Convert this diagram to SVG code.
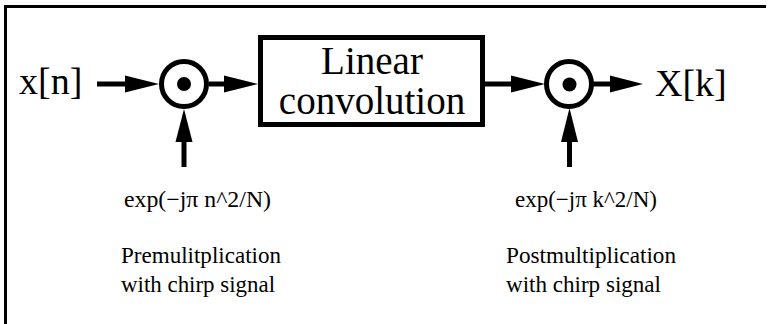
<svg xmlns="http://www.w3.org/2000/svg" width="773" height="324" viewBox="0 0 773 324">
<style>
.ln{stroke:#000;stroke-width:5;fill:none}
.hd{fill:#000;stroke:none}
.ring{stroke:#000;stroke-width:5;fill:#fff}
.dot{fill:#000}
.t{font-family:"Liberation Serif","Times New Roman",serif;fill:#000}
.big{font-size:38px}
.box{font-size:39px}
.sm{font-size:23px}
</style>
<rect width="773" height="324" fill="#fff"/>
<polyline points="5.5,324 5.5,6.5 766,6.5" stroke="#000" stroke-width="3" fill="none"/>
<g id="connectors">
<line class="ln" x1="97" y1="84" x2="128" y2="84"/>
<polygon class="hd" points="125,75.5 159,84 125,92.5"/>
<line class="ln" x1="209" y1="84" x2="228" y2="84"/>
<polygon class="hd" points="224,75.5 258,84 224,92.5"/>
<line class="ln" x1="485" y1="84" x2="514" y2="84"/>
<polygon class="hd" points="511,75.5 545,84 511,92.5"/>
<line class="ln" x1="593" y1="84" x2="613" y2="84"/>
<polygon class="hd" points="610,75.5 643,84 610,92.5"/>
<line class="ln" x1="184" y1="167" x2="184" y2="138"/>
<polygon class="hd" points="175.5,142 184,109 192.5,142"/>
<line class="ln" x1="569.5" y1="167" x2="569.5" y2="138"/>
<polygon class="hd" points="561,142 569.5,108 578,142"/>
</g>
<g id="input">
<text class="t big" x="19" y="94">x[n]</text>
</g>
<g id="mult1">
<circle class="ring" cx="184" cy="84" r="22.5"/>
<circle class="dot" cx="184" cy="84" r="7"/>
</g>
<g id="conv">
<rect x="260.5" y="37.5" width="222" height="87" stroke="#000" stroke-width="5" fill="#fff"/>
<text class="t box" x="372" y="74" text-anchor="middle">Linear</text>
<text class="t box" x="372" y="114" text-anchor="middle">convolution</text>
</g>
<g id="mult2">
<circle class="ring" cx="569" cy="84" r="22.5"/>
<circle class="dot" cx="569.5" cy="84.5" r="7"/>
</g>
<g id="output">
<text class="t big" x="655" y="96" font-size="40">X[k]</text>
</g>
<g id="chirp1">
<text class="t sm" x="124" y="207" textLength="147" lengthAdjust="spacingAndGlyphs">exp(−jπ n^2/N)</text>
</g>
<g id="chirp2">
<text class="t sm" x="515" y="207" textLength="142" lengthAdjust="spacingAndGlyphs">exp(−jπ k^2/N)</text>
</g>
<g id="note1">
<text class="t sm" x="121" y="263" textLength="160" lengthAdjust="spacingAndGlyphs">Premulitplication</text>
<text class="t sm" x="121" y="292" textLength="154" lengthAdjust="spacingAndGlyphs">with chirp signal</text>
</g>
<g id="note2">
<text class="t sm" x="506" y="263" textLength="170" lengthAdjust="spacingAndGlyphs">Postmultiplication</text>
<text class="t sm" x="506" y="292" textLength="155" lengthAdjust="spacingAndGlyphs">with chirp signal</text>
</g>
</svg>
